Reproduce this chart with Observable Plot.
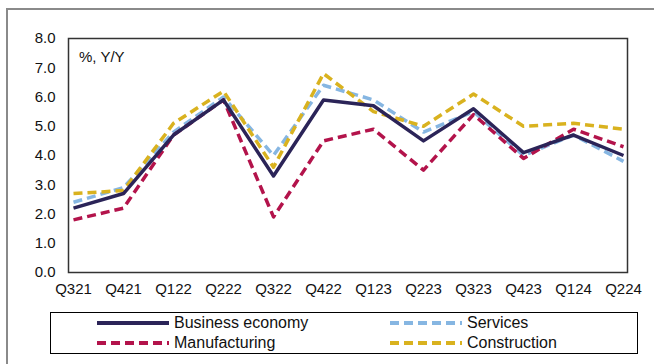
<!DOCTYPE html>
<html>
<head>
<meta charset="utf-8">
<script src="https://cdn.jsdelivr.net/npm/d3@7"></script>
<script src="https://cdn.jsdelivr.net/npm/@observablehq/plot@0.6"></script>
<style>
  html, body { margin: 0; padding: 0; background: #fff; overflow: hidden; }
  body { width: 654px; height: 364px; position: relative; font-family: "Liberation Sans", Arial, sans-serif; }
  #frame { position: absolute; left: 6px; top: 8px; width: 700px; height: 400px; border-left: 2px solid #8a8a8a; border-top: 2px solid #8a8a8a; box-sizing: border-box; }
  #chart { position: absolute; left: 0; top: 0; }
  #unit { position: absolute; left: 79px; top: 48px; font-size: 15px; color: #111; }
  #legend { position: absolute; left: 50px; top: 312px; width: 588px; height: 42px; border: 1px solid #000; box-sizing: border-box; background: #fff; }
  .item { position: absolute; height: 20px; font-size: 16px; color: #111; display: flex; align-items: center; }
  .item svg { margin-right: 5px; }
</style>
</head>
<body>
<div id="frame"></div>
<div id="chart"></div>
<div id="unit">%, Y/Y</div>
<div id="legend"></div>
<script>
const quarters = ["Q321","Q421","Q122","Q222","Q322","Q422","Q123","Q223","Q323","Q423","Q124","Q224"];
const business      = [2.2, 2.7, 4.7, 5.9, 3.3, 5.9, 5.7, 4.5, 5.6, 4.1, 4.7, 4.0];
const services      = [2.4, 2.9, 4.8, 6.0, 4.0, 6.4, 5.9, 4.8, 5.5, 4.0, 4.7, 3.8];
const manufacturing = [1.8, 2.2, 4.7, 5.9, 1.9, 4.5, 4.9, 3.5, 5.4, 3.9, 4.9, 4.3];
const construction  = [2.7, 2.8, 5.1, 6.2, 3.6, 6.8, 5.5, 5.0, 6.1, 5.0, 5.1, 4.9];
const yTicks = [0, 1, 2, 3, 4, 5, 6, 7, 8];

const seriesNames = ["Business economy", "Services", "Manufacturing", "Construction"];
const seriesValues = [business, services, manufacturing, construction];
const seriesColors = ["#2b2458", "#86b6e2", "#b3134b", "#d9b21f"];
const seriesDash = [null, "9,5", "9,5", "9,5"];

const rows = seriesNames.map((name, i) => quarters.map((q, j) => ({q, v: seriesValues[i][j], series: name})));

const drawOrder = [1, 2, 3, 0];
const lineMarks = drawOrder.map(i => Plot.line(rows[i], {
  x: "q", y: "v",
  stroke: seriesColors[i],
  strokeWidth: 3.5,
  strokeDasharray: seriesDash[i] || undefined,
  strokeLinejoin: "round",
  strokeLinecap: "butt"
}));

const chart = Plot.plot({
  width: 654,
  height: 310,
  marginLeft: 68,
  marginRight: 27,
  marginTop: 38,
  marginBottom: 38,
  style: { fontFamily: "Liberation Sans, Arial, sans-serif", fontSize: "15px", color: "#111", background: "transparent" },
  x: { type: "point", domain: quarters, padding: 0, label: null, tickSize: 0, tickPadding: 11 },
  y: { domain: [0, 8], ticks: yTicks, tickFormat: d => d.toFixed(1), label: null, tickSize: 0, tickPadding: 13 },
  marks: [
    Plot.frame({ stroke: "#333", strokeWidth: 1.5 }),
    ...lineMarks
  ]
});
document.getElementById("chart").appendChild(chart);

// legend
const legend = document.getElementById("legend");
const pos = [
  {left: 46, top: 0},   // Business economy
  {left: 339, top: 0},  // Services
  {left: 46, top: 20},  // Manufacturing
  {left: 339, top: 20}  // Construction
];
seriesNames.forEach((name, i) => {
  const d = document.createElement("div");
  d.className = "item";
  d.style.left = pos[i].left + "px";
  d.style.top = pos[i].top + "px";
  const dash = seriesDash[i] ? `stroke-dasharray="${seriesDash[i]}"` : "";
  d.innerHTML = `<svg width="72" height="8"><line x1="0" y1="4" x2="72" y2="4" stroke="${seriesColors[i]}" stroke-width="4" ${dash}/></svg><span>${name}</span>`;
  legend.appendChild(d);
});
</script>
</body>
</html>
